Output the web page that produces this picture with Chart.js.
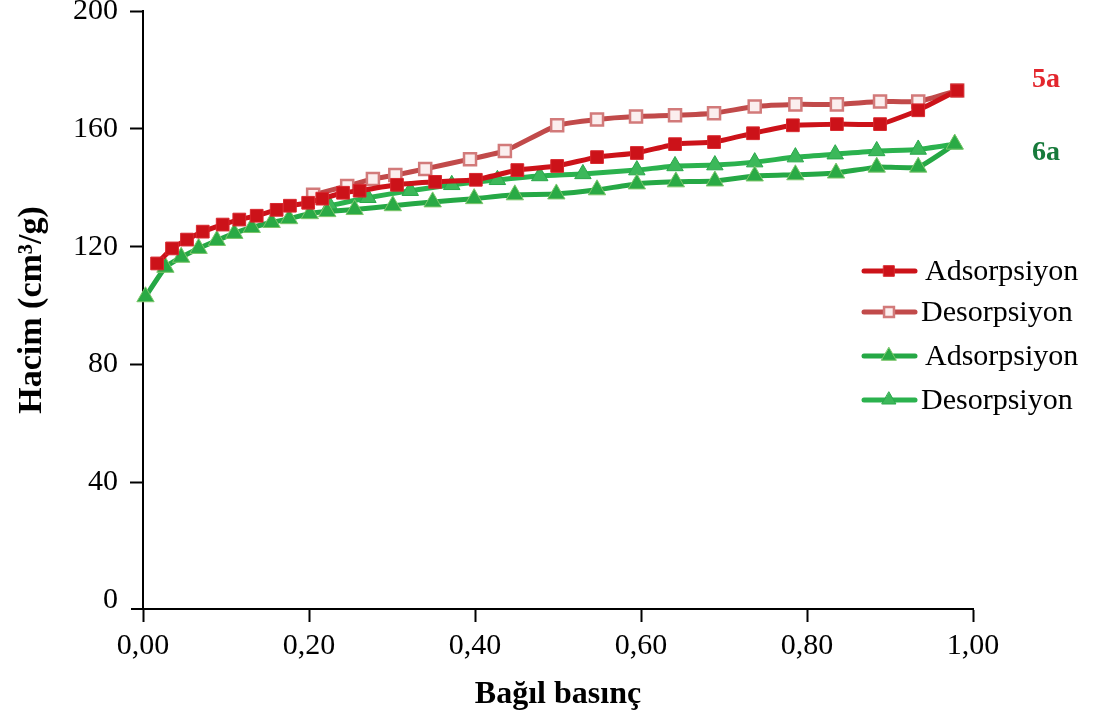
<!DOCTYPE html>
<html>
<head>
<meta charset="utf-8">
<script src="https://cdn.jsdelivr.net/npm/chart.js@4.4.1/dist/chart.umd.min.js"></script>
<style>
  html, body { margin: 0; padding: 0; background: #fff; }
  #wrap { width: 1096px; height: 722px; }
</style>
</head>
<body>
<div id="wrap"><canvas id="c" width="1096" height="722"></canvas></div>
<script>
// Axis ticks
const xTicks = [0, 0.2, 0.4, 0.6, 0.8, 1.0];
const yTicks = [0, 40, 80, 120, 160, 200];

// Sample 5a – adsorption branch (relative pressure, volume cm3/g)
const ads5aP = [0.017, 0.035, 0.053, 0.072, 0.096, 0.116, 0.137, 0.161, 0.177, 0.199, 0.216, 0.241, 0.261,
                0.306, 0.352, 0.401, 0.451, 0.499, 0.547, 0.595, 0.641, 0.688, 0.735, 0.783, 0.836, 0.888, 0.934, 0.981];
const ads5aV = [114.3, 119.4, 122.4, 125.1, 127.5, 129.2, 130.5, 132.5, 133.9, 134.9, 136.3, 138.3, 139.0,
                141.0, 142.0, 142.7, 146.0, 147.4, 150.4, 151.8, 154.8, 155.5, 158.5, 161.2, 161.6, 161.6, 166.3, 173.0];

// Sample 5a – desorption branch
const des5aP = [0.981, 0.934, 0.888, 0.836, 0.786, 0.737, 0.688, 0.641, 0.594, 0.547, 0.499, 0.436, 0.394,
                0.340, 0.304, 0.277, 0.246, 0.205];
const des5aV = [173.0, 169.3, 169.3, 168.3, 168.3, 167.6, 165.3, 164.6, 164.2, 163.2, 161.2, 152.5, 149.7,
                146.4, 144.3, 143.0, 140.6, 137.6];

// Sample 6a – adsorption branch
const ads6aP = [0.003, 0.027, 0.046, 0.067, 0.089, 0.110, 0.131, 0.155, 0.176, 0.201, 0.222, 0.255, 0.301,
                0.349, 0.399, 0.448, 0.498, 0.547, 0.595, 0.642, 0.689, 0.737, 0.786, 0.835, 0.884, 0.934, 0.978];
const ads6aV = [103.0, 113.0, 116.4, 119.4, 122.1, 124.5, 126.5, 128.2, 129.5, 131.2, 131.9, 132.6, 133.9,
                135.2, 136.3, 137.6, 137.9, 139.3, 141.3, 142.0, 142.3, 144.0, 144.4, 145.0, 147.0, 147.0, 154.8];

// Sample 6a – desorption branch
const des6aP = [0.978, 0.934, 0.884, 0.834, 0.786, 0.737, 0.689, 0.641, 0.595, 0.530, 0.478, 0.427, 0.372,
                0.322, 0.271, 0.225];
const des6aV = [154.8, 153.0, 152.5, 151.4, 150.4, 148.7, 147.7, 147.4, 146.0, 144.7, 144.0, 142.7, 141.0,
                139.0, 136.6, 133.9];

const seriesLabels = ['Adsorpsiyon', 'Desorpsiyon', 'Adsorpsiyon', 'Desorpsiyon'];
const sampleTags = ['5a', '6a'];

const toPoints = (p, v) => p.map((x, i) => ({ x: x, y: v[i] }));
const serif = "'Liberation Serif', 'Times New Roman', serif";

const RED = '#cc1219';
const RED_LIGHT = '#c14a4a';
const GREEN = '#25a845';
const GREEN_DES = '#2bb24e';

const datasets = [
  {
    label: seriesLabels[0], data: toPoints(ads5aP, ads5aV),
    borderColor: RED, borderWidth: 5, backgroundColor: RED,
    pointStyle: 'rect', pointRadius: 9, pointBackgroundColor: RED,
    pointBorderColor: '#d8282e', pointBorderWidth: 1
  },
  {
    label: seriesLabels[1], data: toPoints(des5aP, des5aV),
    borderColor: RED_LIGHT, borderWidth: 5, backgroundColor: RED_LIGHT,
    pointStyle: 'rect', pointRadius: 8.5, pointBackgroundColor: '#fbeeee',
    pointBorderColor: '#d27a7a', pointBorderWidth: 2.5
  },
  {
    label: seriesLabels[2], data: toPoints(ads6aP, ads6aV),
    borderColor: GREEN, borderWidth: 5, backgroundColor: GREEN,
    pointStyle: 'triangle', pointRadius: 10, pointBackgroundColor: '#2aaa45',
    pointBorderColor: '#7cc66a', pointBorderWidth: 1
  },
  {
    label: seriesLabels[3], data: toPoints(des6aP, des6aV),
    borderColor: GREEN_DES, borderWidth: 5, backgroundColor: GREEN_DES,
    pointStyle: 'triangle', pointRadius: 9.5, pointBackgroundColor: '#3cb85a',
    pointBorderColor: '#2aa84a', pointBorderWidth: 1
  }
];

// Legend rows and sample tags drawn beside the plot
const legendRows = [271, 312, 356, 400];
const sidePlugin = {
  id: 'sideLegend',
  afterDraw(chart) {
    const ctx = chart.ctx;
    const area = chart.chartArea;
    // x-axis line reaches a little past the y-axis
    ctx.save();
    ctx.strokeStyle = '#000';
    ctx.lineWidth = 2;
    ctx.beginPath();
    ctx.moveTo(area.left - 12, area.bottom);
    ctx.lineTo(area.left, area.bottom);
    ctx.stroke();
    ctx.restore();

    chart.data.datasets.forEach((ds, i) => {
      const y = legendRows[i];
      ctx.save();
      ctx.strokeStyle = ds.borderColor;
      ctx.lineWidth = ds.borderWidth;
      ctx.lineCap = 'round';
      ctx.beginPath();
      ctx.moveTo(864, y);
      ctx.lineTo(915, y);
      ctx.stroke();
      ctx.fillStyle = ds.pointBackgroundColor;
      ctx.strokeStyle = ds.pointBorderColor;
      ctx.lineWidth = ds.pointBorderWidth;
      Chart.helpers.drawPoint(ctx, {
        pointStyle: ds.pointStyle, radius: ds.pointRadius - 1.5, borderWidth: ds.pointBorderWidth
      }, 889, y);
      ctx.fillStyle = '#000';
      ctx.font = '30px ' + serif;
      ctx.textBaseline = 'middle';
      ctx.textAlign = 'left';
      ctx.fillText(ds.label, i % 2 === 0 ? 925 : 921, y + 1);
      ctx.restore();
    });

    const tagColors = ['#e3262d', '#177a3b'];
    const tagY = [80, 153];
    sampleTags.forEach((t, i) => {
      ctx.save();
      ctx.font = 'bold 28px ' + serif;
      ctx.fillStyle = tagColors[i];
      ctx.textAlign = 'center';
      ctx.textBaseline = 'middle';
      ctx.fillText(t, 1046, tagY[i]);
      ctx.restore();
    });
  }
};

new Chart(document.getElementById('c'), {
  type: 'line',
  data: { datasets: datasets },
  options: {
    responsive: false,
    animation: false,
    devicePixelRatio: 1,
    layout: { padding: { top: 9, right: 123, left: 0, bottom: 0 } },
    elements: { line: { tension: 0.15 } },
    clip: false,
    plugins: { legend: { display: false }, tooltip: { enabled: false } },
    scales: {
      x: {
        type: 'linear', min: 0, max: 1,
        afterBuildTicks: s => { s.ticks = xTicks.map(v => ({ value: v })); },
        afterFit: s => { s.height = 113; s.paddingLeft = 0; s.paddingRight = 0; },
        ticks: {
          callback: v => v.toFixed(2).replace('.', ','),
          font: { family: serif, size: 30 }, color: '#000', padding: 6,
          maxRotation: 0, autoSkip: false
        },
        grid: { drawOnChartArea: false, tickLength: 13, tickColor: '#000', tickWidth: 2 },
        border: { color: '#000', width: 2 },
        title: {
          display: true, text: 'Bağıl basınç', color: '#000',
          font: { family: serif, size: 32, weight: 'bold' },
          padding: { top: 0, bottom: 8 }
        }
      },
      y: {
        type: 'linear', min: -3, max: 200,
        afterBuildTicks: s => { s.ticks = yTicks.map(v => ({ value: v })); },
        afterFit: s => { s.width = 143; s.paddingTop = 0; s.paddingBottom = 0; },
        ticks: {
          font: { family: serif, size: 30 }, color: '#000', padding: 12
        },
        grid: {
          drawOnChartArea: false, tickLength: 13, tickWidth: 2,
          tickColor: c => (c.tick && c.tick.value === 0) ? 'rgba(0,0,0,0)' : '#000'
        },
        border: { color: '#000', width: 2 },
        title: {
          display: true, text: 'Hacim (cm³/g)', color: '#000',
          font: { family: serif, size: 34, weight: 'bold' },
          padding: { top: 12, bottom: 0 }
        }
      }
    }
  },
  plugins: [sidePlugin]
});
</script>
</body>
</html>
